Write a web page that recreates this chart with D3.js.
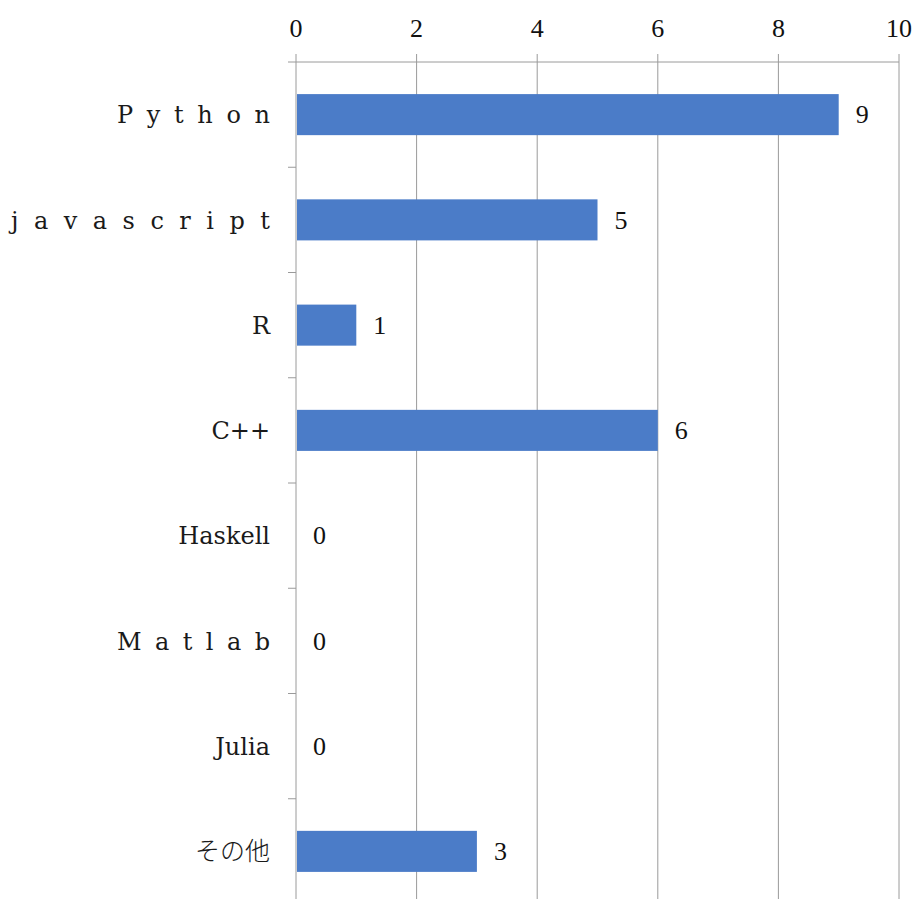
<!DOCTYPE html>
<html>
<head>
<meta charset="utf-8">
<script src="https://cdn.jsdelivr.net/npm/d3@7"></script>
<style>
  body { margin: 0; background: #fff; }
  svg { display: block; }
</style>
</head>
<body>
<div id="chart"></div>
<script>
// chart values
const languages = ["Python", "javascript", "R", "C++", "Haskell", "Matlab", "Julia", "その他"];
const counts = [9, 5, 1, 6, 0, 0, 0, 3];
const xTicks = [0, 2, 4, 6, 8, 10];
// labels typed with wide letter spacing in the original
const spacedLabels = ["Python", "javascript", "Matlab"];

const width = 918, height = 899;
const plotLeft = 296, plotRight = 899, plotTop = 62, plotBottom = 904;

const svg = d3.select("#chart")
    .append("svg")
    .attr("width", width)
    .attr("height", height);

const x = d3.scaleLinear().domain([0, 10]).range([plotLeft, plotRight]);
const y = d3.scaleBand().domain(languages).range([plotTop, plotBottom])
    .paddingInner(0.61).paddingOuter(0.305);

const gridColor = "#9a9a9a";
const serif = "'DejaVu Serif', 'Liberation Serif', serif";
const digitFont = "'Liberation Serif', serif";

// vertical gridlines (incl. axis at 0)
svg.append("g")
    .selectAll("line")
    .data(xTicks)
    .join("line")
    .attr("x1", d => x(d)).attr("x2", d => x(d))
    .attr("y1", plotTop - 8).attr("y2", plotBottom)
    .attr("stroke", gridColor)
    .attr("stroke-width", 1);

// top axis line
svg.append("line")
    .attr("x1", plotLeft - 8).attr("x2", plotRight)
    .attr("y1", plotTop).attr("y2", plotTop)
    .attr("stroke", gridColor);

// category separators on the left axis
const step = y.step();
const seps = d3.range(1, languages.length).map(i => plotTop + i * step);
svg.append("g")
    .selectAll("line")
    .data(seps)
    .join("line")
    .attr("x1", plotLeft - 8).attr("x2", plotLeft)
    .attr("y1", d => d).attr("y2", d => d)
    .attr("stroke", gridColor);

// tick labels on top
svg.append("g")
    .selectAll("text")
    .data(xTicks)
    .join("text")
    .attr("x", d => x(d))
    .attr("y", 37)
    .attr("text-anchor", "middle")
    .style("font-family", digitFont)
    .style("font-size", "26px")
    .attr("fill", "#111")
    .text(d => d);

// bars
svg.append("g")
    .selectAll("rect")
    .data(languages)
    .join("rect")
    .attr("x", x(0) + 1)
    .attr("y", d => y(d))
    .attr("height", y.bandwidth())
    .attr("width", (d, i) => Math.max(0, x(counts[i]) - x(0) - 1))
    .attr("fill", "#4b7cc8");

// value labels
svg.append("g")
    .selectAll("text")
    .data(languages)
    .join("text")
    .attr("x", (d, i) => x(counts[i]) + 17)
    .attr("y", d => y(d) + y.bandwidth() / 2)
    .attr("dy", "0.34em")
    .style("font-family", digitFont)
    .style("font-size", "26px")
    .attr("fill", "#111")
    .text((d, i) => counts[i]);

// category labels
const labelRight = 270;
svg.append("g")
    .selectAll("text")
    .data(languages)
    .join("text")
    .each(function(d) {
        const t = d3.select(this)
            .attr("y", y(d) + y.bandwidth() / 2)
            .attr("dy", "0.36em")
            .attr("fill", "#1a1a1a")
            .text(d);
        if (/^[\x00-\x7f]+$/.test(d)) {
            t.style("font-family", serif).style("font-size", "24px");
        } else {
            t.style("font-family", "'Noto Sans CJK JP', sans-serif")
                .style("font-size", "25px")
                .style("font-weight", 300);
        }
        if (spacedLabels.includes(d)) {
            const len = 26.5 * d.length - 6;
            t.attr("x", labelRight - len)
                .attr("textLength", len)
                .attr("lengthAdjust", "spacing");
        } else {
            t.attr("x", labelRight).attr("text-anchor", "end");
        }
    });
</script>
</body>
</html>
